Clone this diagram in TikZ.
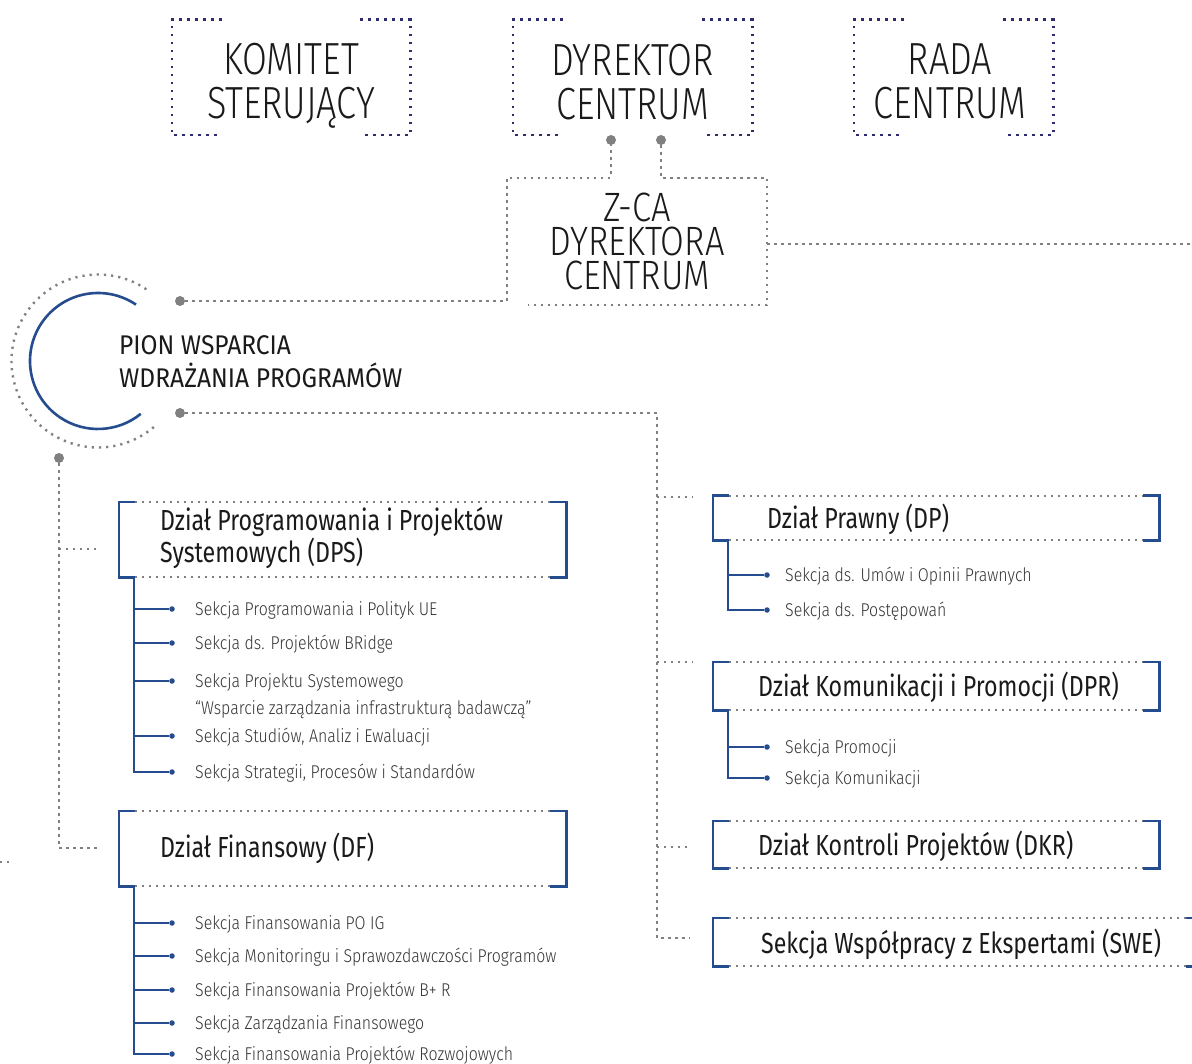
\documentclass[tikz,border=0pt]{standalone}
\usepackage{fontspec}
\setmainfont{Fira Sans Light}[FakeStretch=0.86]
\newfontfamily\headfont{Fira Sans}[FakeStretch=0.80]
\newfontfamily\pionfont{Fira Sans}[FakeStretch=0.91]
\newfontfamily\capfont{Fira Sans Light}[FakeStretch=0.80]
\newfontfamily\zfont{Fira Sans Light}[FakeStretch=0.84]

\definecolor{navy}{HTML}{2E2B6E}
\definecolor{boxblue}{HTML}{244C8F}
\definecolor{dotgray}{HTML}{808080}
\definecolor{ink}{HTML}{1A1A1A}
\definecolor{secgray}{HTML}{333333}

\tikzset{
  topline/.style={draw=navy, line width=2.6pt, dash pattern=on 2.6pt off 5.4pt},
  gline/.style={draw=dotgray, line width=2.4pt, dash pattern=on 2.4pt off 4.6pt},
  bline/.style={draw=boxblue, line width=2.6pt},
  gdot/.style={circle, fill=dotgray, inner sep=0pt, minimum size=10pt},
  bdot/.style={circle, fill=boxblue, inner sep=0pt, minimum size=5.5pt},
  topbox/.style={inner sep=0pt},
  toptext/.style={inner sep=0pt, align=center, text=ink, font=\capfont\fontsize{45}{44}\selectfont},
  ztext/.style={inner sep=0pt, text height=29pt, text depth=0pt, text=ink, font=\zfont\fontsize{41}{34}\selectfont},
  piontext/.style={anchor=west, inner sep=0pt, align=left, text=ink, font=\pionfont\fontsize{27}{33}\selectfont},
  deptbox/.style={inner sep=0pt},
  depttext/.style={anchor=west, inner sep=0pt, align=left, text=ink, font=\headfont\fontsize{29}{29}\selectfont},
  sectext/.style={anchor=base west, inner sep=0pt, text=secgray, font=\fontsize{18.5}{20}\selectfont}
}

\begin{document}
\begin{tikzpicture}[x=1pt,y=-1pt]
  \fill[white] (0,0) rectangle (1192,1064);
  \useasboundingbox (0,0) rectangle (1192,1064);

  \node[topbox, minimum width=238pt, minimum height=115pt] (kom) at (291,77.5) {};
  \node[topbox, minimum width=239pt, minimum height=115pt] (dyr) at (632.5,77.5) {};
  \node[topbox, minimum width=199pt, minimum height=115pt] (rada) at (953.5,77.5) {};
  \node[toptext] (komt) at (291,86) {KOMITET\\STERUJĄCY};
  \node[toptext] (dyrt) at (632.5,82) {DYREKTOR\\CENTRUM};
  \node[toptext] (radat) at (950,81) {RADA\\CENTRUM};

  \foreach \b in {kom,dyr,rada}{
    \draw[topline] ([xshift=50pt]\b.north west) -- (\b.north west) -- (\b.south west) -- ([xshift=50pt]\b.south west);
    \draw[topline] ([xshift=-50pt]\b.north east) -- (\b.north east) -- (\b.south east) -- ([xshift=-50pt]\b.south east);
  }

  \node[gdot] (d1) at (611,140) {};
  \node[gdot] (d2) at (661,140) {};
  \node[deptbox, minimum width=260pt, minimum height=127pt] (zca) at (637,241.5) {};
  \node[ztext] (zcat1) at (637,207) {Z-CA};
  \node[ztext] (zcat2) at (637,241) {DYREKTORA};
  \node[ztext] (zcat3) at (637,275) {CENTRUM};
  \coordinate (zend) at (1192,244);

  \node[gdot] (pa) at (180,301) {};
  \node[gdot] (pb) at (180,413) {};
  \node[gdot] (pc) at (59,458) {};

  \draw[gline] (pa) -- (pa -| zca.west) -- (zca.north west) -- (d1 |- zca.north) -- (d1);
  \draw[gline] (d2) -- (d2 |- zca.north) -- (zca.north east) -- (zca.south east) -- ([xshift=21pt]zca.south west);
  \draw[gline] (zca.east |- zend) -- (zend);

  \coordinate (ring) at (98,361);
  \draw[gline, dash pattern=on 2.2pt off 5pt] ([shift={(-56:86.5)}]ring) arc[start angle=-56, end angle=-313, radius=86.5];
  \draw[bline] ([shift={(-56:68)}]ring) arc[start angle=-56, end angle=-309, radius=68];
  \node[piontext] (pion) at (119,362) {PION WSPARCIA\\WDRAŻANIA PROGRAMÓW};

  \node[deptbox, minimum width=447pt, minimum height=75pt] (dps) at (342.5,539.5) {};
  \node[deptbox, minimum width=447pt, minimum height=75pt] (df) at (342.5,848.5) {};
  \node[deptbox, minimum width=446pt, minimum height=44pt] (dp) at (936,518) {};
  \node[deptbox, minimum width=446pt, minimum height=48pt] (dpr) at (936,686) {};
  \node[deptbox, minimum width=446pt, minimum height=47pt] (dkr) at (936,844.5) {};
  \node[deptbox, minimum width=489pt, minimum height=48pt] (swe) at (957.5,942) {};

  \node[depttext] (dpst) at (160,538) {Dział Programowania i Projektów\\Systemowych (DPS)};
  \node[depttext] (dft) at (160,848) {Dział Finansowy (DF)};
  \node[depttext] (dpt) at (767,519) {Dział Prawny (DP)};
  \node[depttext] (dprt) at (758,687) {Dział Komunikacji i Promocji (DPR)};
  \node[depttext] (dkrt) at (758,846) {Dział Kontroli Projektów (DKR)};
  \node[depttext] (swet) at (761,944) {Sekcja Współpracy z Ekspertami (SWE)};

  \foreach \b in {dps,df,dp,dpr,dkr,swe}{
    \draw[gline] ([xshift=16pt]\b.north west) -- ([xshift=-16pt]\b.north east);
    \draw[gline] ([xshift=16pt]\b.south west) -- ([xshift=-16pt]\b.south east);
    \draw[bline] ([xshift=16pt]\b.north west) -- (\b.north west) -- (\b.south west) -- ([xshift=16pt]\b.south west);
    \draw[bline] ([xshift=-16pt]\b.north east) -- (\b.north east) -- (\b.south east) -- ([xshift=-16pt]\b.south east);
  }

  \coordinate (lb1) at (100,549);
  \coordinate (lb2) at (100,848);
  \draw[gline] (pc) -- (pc |- lb2) -- (lb2);
  \draw[gline] (pc |- lb1) -- (lb1);
  \coordinate (lstub) at (0,862);
  \draw[gline] (lstub) -- ++(12,0);

  \coordinate (rtop) at (657,413);
  \coordinate (rb1) at (693,497);
  \coordinate (rb2) at (693,662);
  \coordinate (rb3) at (690,847);
  \coordinate (rb4) at (690,938);
  \draw[gline] (pb) -- (rtop) -- (rtop |- rb4) -- (rb4);
  \draw[gline] (rtop |- rb1) -- (rb1);
  \draw[gline] (rtop |- rb2) -- (rb2);
  \draw[gline] (rtop |- rb3) -- (rb3);

  \node[bdot] (dpsb1) at (172,609) {};
  \node[bdot] (dpsb2) at (172,643) {};
  \node[bdot] (dpsb3) at (172,681) {};
  \node[bdot] (dpsb4) at (172,736) {};
  \node[bdot] (dpsb5) at (172,772) {};
  \draw[bline] ([xshift=15pt]dps.south west) |- (dpsb5);
  \draw[bline] ([xshift=15pt]dps.south west |- dpsb1) -- (dpsb1);
  \draw[bline] ([xshift=15pt]dps.south west |- dpsb2) -- (dpsb2);
  \draw[bline] ([xshift=15pt]dps.south west |- dpsb3) -- (dpsb3);
  \draw[bline] ([xshift=15pt]dps.south west |- dpsb4) -- (dpsb4);
  \node[sectext] (dpss1) at (195,615.5) {Sekcja Programowania i Polityk UE};
  \node[sectext] (dpss2) at (195,649.5) {Sekcja ds. Projektów BRidge};
  \node[sectext] (dpss3) at (195,687.5) {Sekcja Projektu Systemowego};
  \node[sectext] (dpss3b) at (195,714.5) {“Wsparcie zarządzania infrastrukturą badawczą”};
  \node[sectext] (dpss4) at (195,742.5) {Sekcja Studiów, Analiz i Ewaluacji};
  \node[sectext] (dpss5) at (195,778.5) {Sekcja Strategii, Procesów i Standardów};

  \node[bdot] (dfb1) at (172,923) {};
  \node[bdot] (dfb2) at (172,956) {};
  \node[bdot] (dfb3) at (172,990) {};
  \node[bdot] (dfb4) at (172,1023) {};
  \node[bdot] (dfb5) at (172,1054) {};
  \draw[bline] ([xshift=15pt]df.south west) |- (dfb5);
  \draw[bline] ([xshift=15pt]df.south west |- dfb1) -- (dfb1);
  \draw[bline] ([xshift=15pt]df.south west |- dfb2) -- (dfb2);
  \draw[bline] ([xshift=15pt]df.south west |- dfb3) -- (dfb3);
  \draw[bline] ([xshift=15pt]df.south west |- dfb4) -- (dfb4);
  \node[sectext] (dfs1) at (195,929.5) {Sekcja Finansowania PO IG};
  \node[sectext] (dfs2) at (195,962.5) {Sekcja Monitoringu i Sprawozdawczości Programów};
  \node[sectext] (dfs3) at (195,996.5) {Sekcja Finansowania Projektów B+ R};
  \node[sectext] (dfs4) at (195,1029.5) {Sekcja Zarządzania Finansowego};
  \node[sectext] (dfs5) at (195,1060.5) {Sekcja Finansowania Projektów Rozwojowych};

  \node[bdot] (dpb1) at (767,575) {};
  \node[bdot] (dpb2) at (767,610) {};
  \draw[bline] ([xshift=15pt]dp.south west) |- (dpb2);
  \draw[bline] ([xshift=15pt]dp.south west |- dpb1) -- (dpb1);
  \node[sectext] (dps1) at (785,581.5) {Sekcja ds. Umów i Opinii Prawnych};
  \node[sectext] (dps2) at (785,616.5) {Sekcja ds. Postępowań};

  \node[bdot] (dprb1) at (767,747) {};
  \node[bdot] (dprb2) at (767,778) {};
  \draw[bline] ([xshift=15pt]dpr.south west) |- (dprb2);
  \draw[bline] ([xshift=15pt]dpr.south west |- dprb1) -- (dprb1);
  \node[sectext] (dprs1) at (785,753.5) {Sekcja Promocji};
  \node[sectext] (dprs2) at (785,784.5) {Sekcja Komunikacji};
\end{tikzpicture}
\end{document}
